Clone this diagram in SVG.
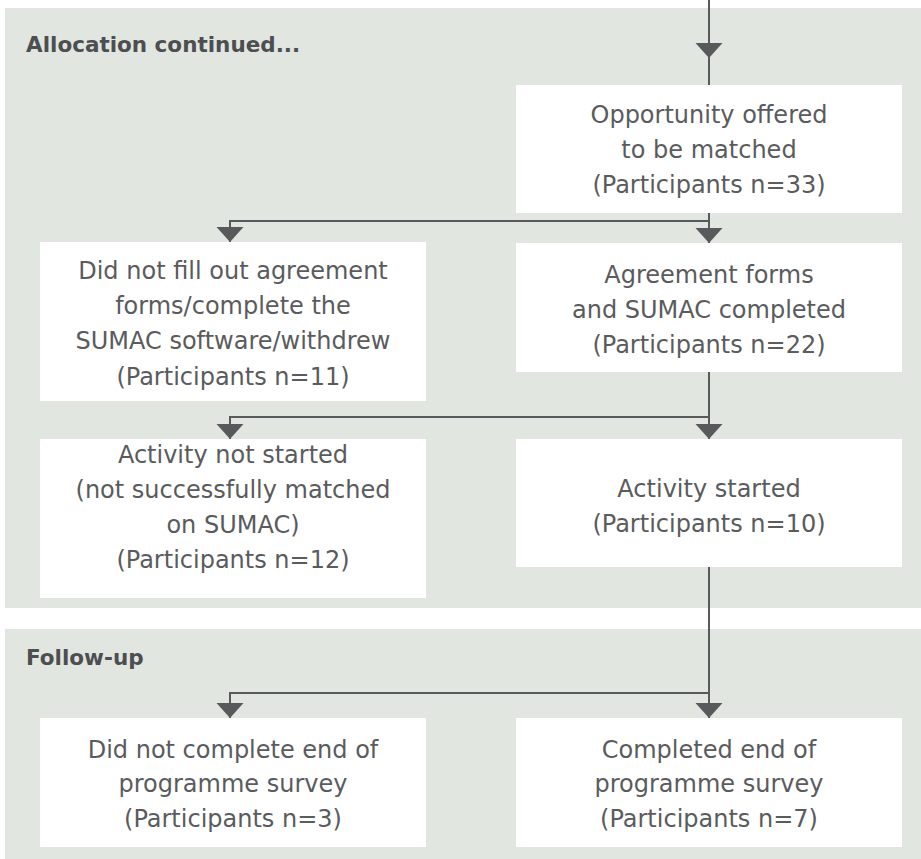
<svg xmlns="http://www.w3.org/2000/svg" width="921" height="859" viewBox="0 0 921 859">
  <defs>
    <style>
      .panel { fill: #e2e6e1; }
      .box { fill: #ffffff; }
      .title { font-family: "DejaVu Sans", "Liberation Sans", sans-serif; font-weight: bold; font-size: 21.5px; fill: #4d4e50; }
      .label { font-family: "DejaVu Sans", "Liberation Sans", sans-serif; font-size: 24px; fill: #5a5b5d; text-anchor: middle; }
      .wire { fill: none; stroke: #58595b; stroke-width: 2; }
      .head { fill: #58595b; }
    </style>
    <path id="arrowhead" d="M -13.5 -15 L 13.5 -15 L 0 0 Z" class="head"/>
  </defs>

  <rect width="921" height="859" fill="#ffffff"/>

  <!-- Section panels -->
  <g id="section-allocation">
    <rect class="panel" x="5" y="8" width="916" height="600"/>
    <text class="title" x="26" y="52">Allocation continued...</text>
  </g>
  <g id="section-followup">
    <rect class="panel" x="5" y="629" width="916" height="230"/>
    <text class="title" x="26" y="665">Follow-up</text>
  </g>

  <!-- Connectors -->
  <g id="connectors">
    <path class="wire" d="M 709 0 V 85"/>
    <use href="#arrowhead" x="709" y="58"/>

    <path class="wire" d="M 709 213 V 243 M 709 221 H 230 V 242"/>
    <use href="#arrowhead" x="230" y="242"/>
    <use href="#arrowhead" x="709" y="243"/>

    <path class="wire" d="M 709 372 V 439 M 709 417 H 230 V 439"/>
    <use href="#arrowhead" x="230" y="439"/>
    <use href="#arrowhead" x="709" y="439"/>

    <path class="wire" d="M 709 567 V 718 M 709 693 H 230 V 718"/>
    <use href="#arrowhead" x="230" y="718"/>
    <use href="#arrowhead" x="709" y="718"/>
  </g>

  <!-- Nodes -->
  <g id="offered">
    <rect class="box" x="516" y="85" width="386" height="128"/>
    <text class="label" x="709" y="123">Opportunity offered</text>
    <text class="label" x="709" y="158">to be matched</text>
    <text class="label" x="709" y="193">(Participants n=33)</text>
  </g>

  <g id="not-completed-forms">
    <rect class="box" x="40" y="242" width="386" height="159"/>
    <text class="label" x="233" y="279">Did not fill out agreement</text>
    <text class="label" x="233" y="314">forms/complete the</text>
    <text class="label" x="233" y="349">SUMAC software/withdrew</text>
    <text class="label" x="233" y="385">(Participants n=11)</text>
  </g>

  <g id="forms-completed">
    <rect class="box" x="516" y="243" width="386" height="129"/>
    <text class="label" x="709" y="283">Agreement forms</text>
    <text class="label" x="709" y="318">and SUMAC completed</text>
    <text class="label" x="709" y="353">(Participants n=22)</text>
  </g>

  <g id="activity-not-started">
    <rect class="box" x="40" y="439" width="386" height="159"/>
    <text class="label" x="233" y="463">Activity not started</text>
    <text class="label" x="233" y="498">(not successfully matched</text>
    <text class="label" x="233" y="533">on SUMAC)</text>
    <text class="label" x="233" y="568">(Participants n=12)</text>
  </g>

  <g id="activity-started">
    <rect class="box" x="516" y="439" width="386" height="128"/>
    <text class="label" x="709" y="497">Activity started</text>
    <text class="label" x="709" y="532">(Participants n=10)</text>
  </g>

  <g id="survey-not-completed">
    <rect class="box" x="40" y="718" width="386" height="129"/>
    <text class="label" x="233" y="758">Did not complete end of</text>
    <text class="label" x="233" y="792">programme survey</text>
    <text class="label" x="233" y="827">(Participants n=3)</text>
  </g>

  <g id="survey-completed">
    <rect class="box" x="516" y="718" width="386" height="129"/>
    <text class="label" x="709" y="758">Completed end of</text>
    <text class="label" x="709" y="792">programme survey</text>
    <text class="label" x="709" y="827">(Participants n=7)</text>
  </g>
</svg>
